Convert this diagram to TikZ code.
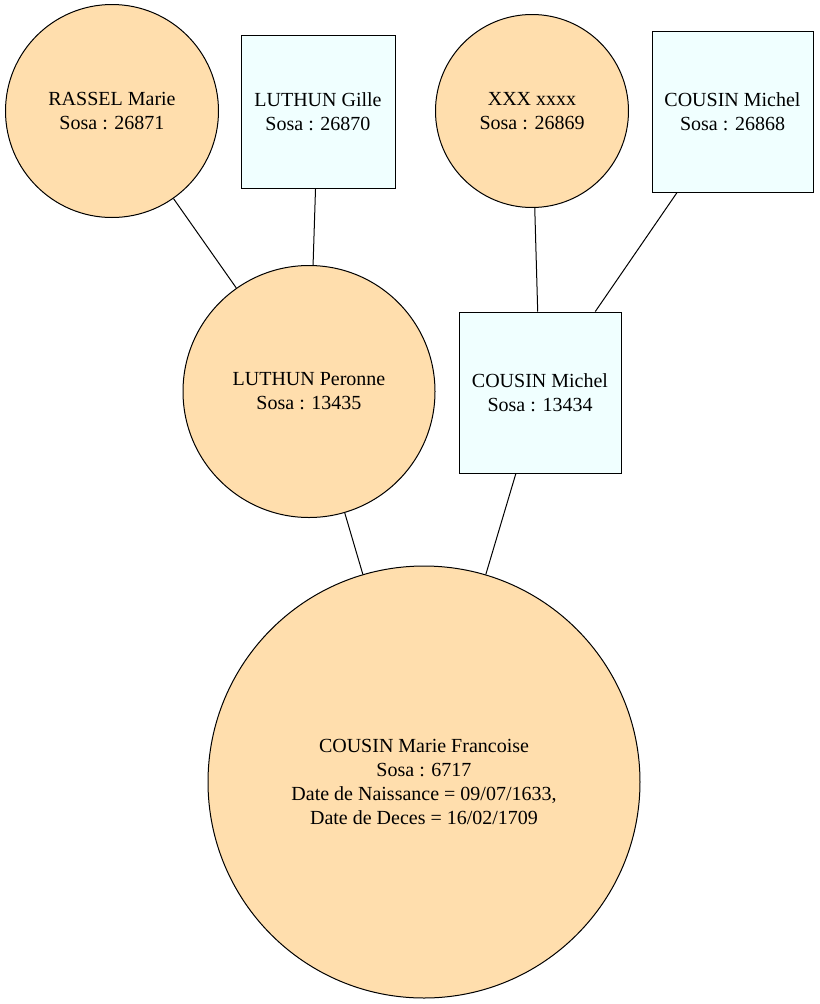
\documentclass[tikz,border=0pt]{standalone}
\usepackage{fontspec}
\setmainfont{Liberation Serif}
\usetikzlibrary{positioning}

\definecolor{womanfill}{HTML}{FFDEAD}
\definecolor{manfill}{HTML}{F0FFFF}

\begin{document}
\begin{tikzpicture}[x=0.75pt,y=-0.75pt,-,auto,line width=0.75pt,
                woman/.style={circle,draw,fill=womanfill,inner sep=0pt,align=center,
                  font=\fontsize{15}{18}\selectfont},
                man/.style={rectangle,draw,fill=manfill,inner sep=0pt,align=center,
                  font=\fontsize{15}{18}\selectfont}]

  \useasboundingbox (0,0) rectangle (819,1004);

  \node[woman, minimum size=159.75pt] (26871) at (112,111) {RASSEL Marie\\Sosa : 26871};
  \node[man, minimum width=115.5pt, minimum height=114.75pt] (26870) at (318,111.5) {LUTHUN Gille\\Sosa : 26870};
  \node[woman, minimum size=144.75pt] (26869) at (532,111) {XXX xxxx\\Sosa : 26869};
  \node[man, minimum width=120.75pt, minimum height=120.75pt] (26868) at (732.5,111.5) {COUSIN Michel\\Sosa : 26868};

  \node[woman, minimum size=189pt] (13435) at (309,391.5) {LUTHUN Peronne\\Sosa : 13435};
  \node[man, minimum width=121.5pt, minimum height=120.75pt] (13434) at (540,392.5) {COUSIN Michel\\Sosa : 13434};

  \node[woman, minimum size=324pt] (6717) at (424,782) {COUSIN Marie Francoise\\Sosa : 6717\\Date de Naissance = 09/07/1633,\\Date de Deces = 16/02/1709};

  \path
    (26871) edge (13435)
    (26870) edge (13435)
    (26869) edge (13434)
    (26868) edge (13434)
    (13435) edge (6717)
    (13434) edge (6717);

\end{tikzpicture}
\end{document}
